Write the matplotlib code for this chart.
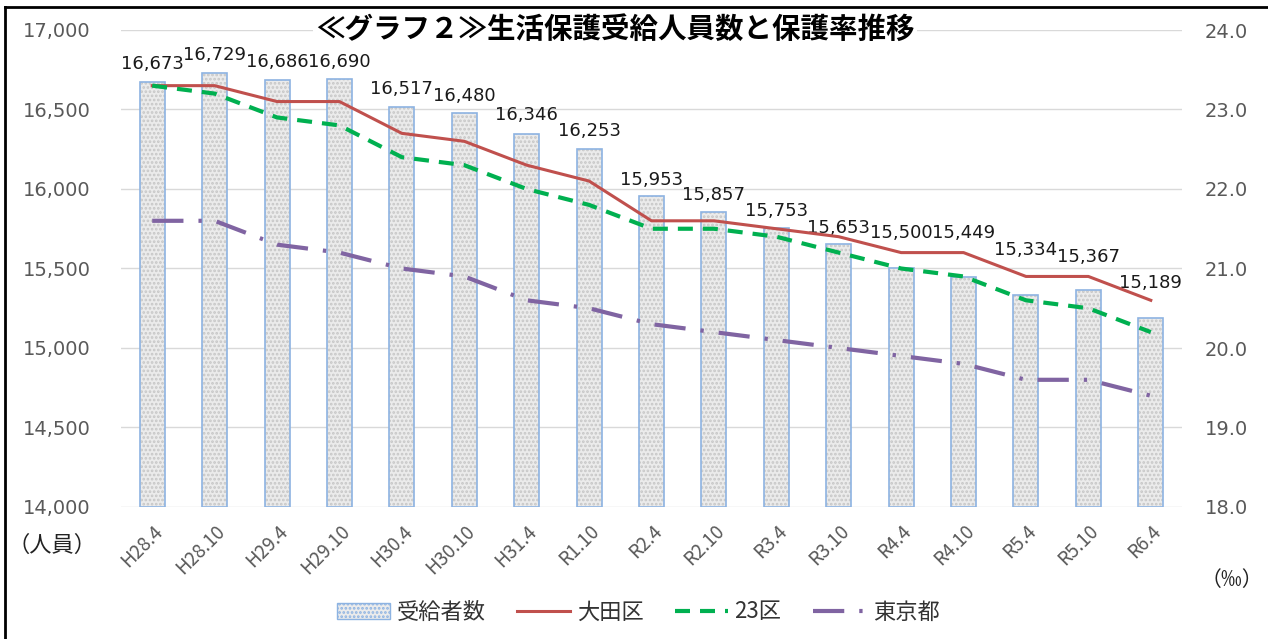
import matplotlib
matplotlib.use('Agg')
import matplotlib.pyplot as plt
from matplotlib.lines import Line2D
from matplotlib.patches import Patch
import numpy as np

plt.rcParams['font.family'] = ['Noto Sans CJK JP', 'DejaVu Sans']
plt.rcParams['hatch.linewidth'] = 1.3

labels = ['H28.4', 'H28.10', 'H29.4', 'H29.10', 'H30.4', 'H30.10', 'H31.4', 'R1.10',
          'R2.4', 'R2.10', 'R3.4', 'R3.10', 'R4.4', 'R4.10', 'R5.4', 'R5.10', 'R6.4']
jukyu = [16673, 16729, 16686, 16690, 16517, 16480, 16346, 16253,
         15953, 15857, 15753, 15653, 15500, 15449, 15334, 15367, 15189]
ota = [23.3, 23.3, 23.1, 23.1, 22.7, 22.6, 22.3, 22.1,
       21.6, 21.6, 21.5, 21.4, 21.2, 21.2, 20.9, 20.9, 20.6]
ku23 = [23.3, 23.2, 22.9, 22.8, 22.4, 22.3, 22.0, 21.8,
        21.5, 21.5, 21.4, 21.2, 21.0, 20.9, 20.6, 20.5, 20.2]
tokyo = [21.6, 21.6, 21.3, 21.2, 21.0, 20.9, 20.6, 20.5,
         20.3, 20.2, 20.1, 20.0, 19.9, 19.8, 19.6, 19.6, 19.4]

# label offsets above bar top (pixels); last ones were moved up to clear the lines
label_dy = [18, 18, 18, 17, 18, 17, 19, 18, 16, 17, 17, 16, 36, 44, 45, 33, 35]

x = np.arange(len(labels))
grey = '#595959'
tokyo_ls = (0, (7.5, 3.6, 0.8, 3.6))
ku_ls = (0, (3.6, 2.4))

fig = plt.figure(figsize=(12.68, 6.39), dpi=100)
ax = fig.add_axes([121 / 1268, 1 - 507 / 639, (1182 - 121) / 1268, (507 - 30) / 639])
ax2 = ax.twinx()

# bars: speckled fill + blue outline
ax.bar(x, [v - 14000 for v in jukyu], bottom=14000, width=0.4, color='#ebebeb',
       hatch='....', edgecolor='#c6c6c6', linewidth=0, zorder=2)
ax.bar(x, [v - 14000 for v in jukyu], bottom=14000, width=0.4, fill=False,
       edgecolor='#8db3e2', linewidth=1.2, zorder=3)

for i, v in enumerate(jukyu):
    ax.annotate(f'{v:,}', (x[i], v), xytext=(0, label_dy[i] / 1.389),
                textcoords='offset points', ha='center', va='center', fontsize=13,
                color='#1a1a1a', family='DejaVu Sans', zorder=5)

ax2.plot(x, ota, color='#c0504d', lw=2.2, zorder=4)
ax2.plot(x, ku23, color='#00b050', lw=3, ls=ku_ls, zorder=4)
ax2.plot(x, tokyo, color='#8064a2', lw=3, ls=tokyo_ls, zorder=4)

ax.set_ylim(14000, 17000)
ax.set_yticks(np.arange(14000, 17001, 500))
ax.set_yticklabels([f'{v:,}' for v in range(14000, 17001, 500)], family='DejaVu Sans')
ax2.set_ylim(18.0, 24.0)
ax2.set_yticks(np.arange(18, 24.01, 1))
ax2.set_yticklabels([f'{v:.1f}' for v in np.arange(18, 24.01, 1)], family='DejaVu Sans')
ax.set_xlim(-0.5, len(labels) - 0.5)
ax.set_xticks(x)
ax.set_xticklabels(labels, rotation=45, ha='right', rotation_mode='anchor')

ax.grid(axis='y', color='#d9d9d9', lw=1, zorder=0)
ax.set_axisbelow(True)
for a in (ax, ax2):
    for s in a.spines.values():
        s.set_visible(False)
    a.tick_params(length=0, colors=grey, labelsize=14)
ax.tick_params(axis='y', pad=22)
ax2.tick_params(axis='y', pad=16.5)
ax.tick_params(axis='x', pad=10, labelsize=13.5)

fig.text(615 / 1268, 1 - 30 / 639, '≪グラフ２≫生活保護受給人員数と保護率推移', ha='center', va='center',
         fontsize=20.5, fontweight='bold', color='black',
         bbox=dict(facecolor='white', edgecolor='none', pad=2))
fig.text(52 / 1268, 1 - 545 / 639, '（人員）', ha='center', va='center', fontsize=16, color='#222222')
fig.text(1232 / 1268, 1 - 580 / 639, '（‰）', ha='center', va='center', fontsize=15, color='#222222')

handles = [Patch(facecolor='#ebebeb', edgecolor='#8db3e2', hatch='....'),
           Line2D([], [], color='#c0504d', lw=2.2),
           Line2D([], [], color='#00b050', lw=3, ls=ku_ls),
           Line2D([], [], color='#8064a2', lw=3, ls=tokyo_ls)]
fig.legend(handles, ['受給者数', '大田区', '23区', '東京都'], loc='center',
           bbox_to_anchor=(638 / 1268, 1 - 612 / 639), ncol=4, frameon=False,
           fontsize=16, handlelength=2.4, columnspacing=1.4, handletextpad=0.3,
           labelcolor='#333333')

# outer frame
fig.add_artist(Line2D([5 / 1268, 1], [1 - 7 / 639, 1 - 7 / 639], color='black', lw=2))
fig.add_artist(Line2D([5 / 1268, 5 / 1268], [0, 1 - 7 / 639], color='black', lw=2))

fig.savefig('out.png', dpi=100, facecolor='white')
